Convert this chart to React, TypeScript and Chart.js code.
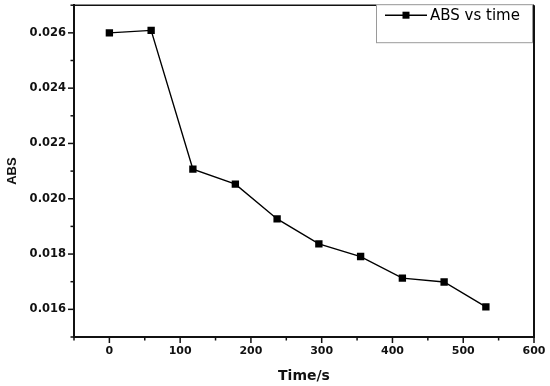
import React, { useEffect, useRef } from "react";
import { Chart, registerables } from "chart.js";

Chart.register(...registerables);

const seriesLabel = "ABS vs time";
const timeValues = [0, 59, 118, 178, 237, 296, 355, 414, 473, 532];
const absValues = [0.026, 0.02609, 0.02107, 0.02053, 0.01927, 0.01837, 0.01791, 0.01713, 0.01699, 0.01609];
const xTickValues = [-50, 0, 50, 100, 150, 200, 250, 300, 350, 400, 450, 500, 550, 600];
const yTickValues = [0.015, 0.016, 0.017, 0.018, 0.019, 0.02, 0.021, 0.022, 0.023, 0.024, 0.025, 0.026, 0.027];
const xTitle = "Time/s";
const yTitle = "ABS";

const framePlugin = {
  id: "frame",
  afterDraw(chart: any) {
    const { ctx, chartArea } = chart;
    const xs = chart.scales.x;
    const ys = chart.scales.y;
    ctx.save();
    ctx.strokeStyle = "#111";
    // top and right borders
    ctx.lineWidth = 1.6;
    ctx.beginPath();
    ctx.moveTo(chartArea.left, chartArea.top);
    ctx.lineTo(chartArea.right, chartArea.top);
    ctx.stroke();
    ctx.lineWidth = 2;
    ctx.beginPath();
    ctx.moveTo(chartArea.right, chartArea.top);
    ctx.lineTo(chartArea.right, chartArea.bottom + 1);
    ctx.stroke();
    // tick marks
    ctx.lineWidth = 1.5;
    xs.ticks.forEach((t: any) => {
      const px = xs.getPixelForValue(t.value);
      const major = Math.round(t.value) % 100 === 0;
      ctx.beginPath();
      ctx.moveTo(px, chartArea.bottom);
      ctx.lineTo(px, chartArea.bottom + (major ? 6 : 3.5));
      ctx.stroke();
    });
    ys.ticks.forEach((t: any) => {
      const py = ys.getPixelForValue(t.value);
      const major = Math.round(t.value * 1000) % 2 === 0;
      ctx.beginPath();
      ctx.moveTo(chartArea.left, py);
      ctx.lineTo(chartArea.left - (major ? 6 : 3.5), py);
      ctx.stroke();
    });
    // legend box
    const boxRight = chartArea.right - 1;
    const boxLeft = boxRight - 157;
    const boxTop = chartArea.top - 1;
    const boxBottom = boxTop + 39;
    ctx.fillStyle = "#fff";
    ctx.fillRect(boxLeft, boxTop, boxRight - boxLeft, boxBottom - boxTop);
    ctx.strokeStyle = "#9a9a9a";
    ctx.lineWidth = 1;
    ctx.strokeRect(boxLeft + 0.5, boxTop + 0.5, boxRight - boxLeft - 1, boxBottom - boxTop - 1);
    const ly = boxTop + 11;
    const lx0 = boxLeft + 9;
    const lx1 = lx0 + 42;
    ctx.strokeStyle = "#000";
    ctx.lineWidth = 1.4;
    ctx.beginPath();
    ctx.moveTo(lx0, ly);
    ctx.lineTo(lx1, ly);
    ctx.stroke();
    ctx.fillStyle = "#000";
    ctx.fillRect((lx0 + lx1) / 2 - 3.5, ly - 3.5, 7, 7);
    ctx.font = "15px 'DejaVu Sans', sans-serif";
    ctx.textBaseline = "middle";
    ctx.textAlign = "left";
    ctx.fillText(chart.data.datasets[0].label, lx1 + 3, ly + 0.5);
    ctx.restore();
  },
};

export default function App() {
  const canvasRef = useRef<HTMLCanvasElement | null>(null);

  useEffect(() => {
    if (!canvasRef.current) return;
    const chart = new Chart(canvasRef.current, {
      type: "scatter",
      data: {
        datasets: [
          {
            label: seriesLabel,
            data: timeValues.map((t, i) => ({ x: t, y: absValues[i] })),
            showLine: true,
            borderColor: "#000",
            borderWidth: 1.4,
            backgroundColor: "#000",
            pointStyle: "rect",
            pointRadius: 5.2,
            pointBorderWidth: 0,
            pointBackgroundColor: "#000",
          },
        ],
      },
      options: {
        animation: false,
        responsive: false,
        maintainAspectRatio: false,
        layout: { padding: { top: 5, right: 16, bottom: 0, left: 0 } },
        plugins: { legend: { display: false }, tooltip: { enabled: false } },
        scales: {
          x: {
            type: "linear",
            min: -50,
            max: 600,
            afterBuildTicks: (scale: any) => {
              scale.ticks = xTickValues.map((v) => ({ value: v }));
            },
            afterFit: (scale: any) => {
              scale.height = 49;
              scale.paddingLeft = 0;
              scale.paddingRight = 0;
            },
            grid: { display: true, drawOnChartArea: false, drawTicks: false, color: "rgba(0,0,0,0)" },
            border: { display: true, color: "#111", width: 2 },
            ticks: {
              autoSkip: false,
              maxRotation: 0,
              padding: 8,
              color: "#111",
              font: { family: "'DejaVu Sans', sans-serif", size: 11, weight: "bold" },
              callback: (v: any) => (Math.round(v) % 100 === 0 && v >= 0 ? String(v) : ""),
            },
            title: {
              display: true,
              text: xTitle,
              color: "#111",
              font: { family: "'DejaVu Sans', sans-serif", size: 14, weight: "bold" },
              padding: { top: 0, bottom: 1 },
            },
          },
          y: {
            type: "linear",
            min: 0.015,
            max: 0.027,
            afterBuildTicks: (scale: any) => {
              scale.ticks = yTickValues.map((v) => ({ value: v }));
            },
            afterFit: (scale: any) => {
              scale.width = 74;
              scale.paddingTop = 0;
              scale.paddingBottom = 0;
            },
            grid: { display: true, drawOnChartArea: false, drawTicks: false, color: "rgba(0,0,0,0)" },
            border: { display: true, color: "#111", width: 2 },
            ticks: {
              autoSkip: false,
              padding: 8,
              color: "#111",
              font: { family: "'DejaVu Sans', sans-serif", size: 11.5, weight: "bold" },
              callback: (v: any) => {
                const k = Math.round(v * 1000);
                return k % 2 === 0 ? (k / 1000).toFixed(3) : "";
              },
            },
            title: {
              display: true,
              text: yTitle,
              color: "#111",
              font: { family: "'Liberation Sans', Arial, sans-serif", size: 13, weight: "bold" },
              padding: { top: 5, bottom: 0 },
            },
          },
        },
      },
      plugins: [framePlugin],
    });
    return () => chart.destroy();
  }, []);

  return (
    <div style={{ position: "fixed", left: 0, top: 0, width: 550, height: 386, background: "#fff" }}>
      <canvas ref={canvasRef} width={550} height={386} style={{ width: 550, height: 386 }} />
    </div>
  );
}
